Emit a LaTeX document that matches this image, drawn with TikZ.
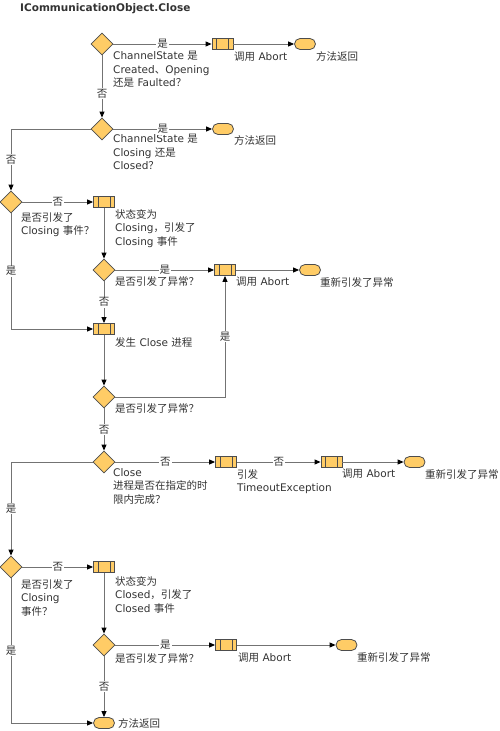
\documentclass[tikz,border=0pt]{standalone}
\usepackage{fontspec}
\setmainfont{DejaVu Sans}
\newfontfamily\cjk{Noto Sans CJK SC}
\usetikzlibrary{shapes.geometric,arrows.meta}
\newcommand{\zh}[1]{{\cjk #1}}
\definecolor{boxfill}{HTML}{FFCC66}
\definecolor{boxline}{HTML}{4D4D4D}
\definecolor{flowline}{HTML}{737373}
\definecolor{txtcol}{HTML}{333333}
\tikzset{
  decide/.style={diamond, aspect=1, minimum size=22pt, inner sep=0pt, fill=boxfill, draw=boxline, line width=.8pt},
  act/.style={rectangle, minimum width=21pt, minimum height=11pt, inner sep=0pt, fill=boxfill, draw=boxline, line width=.8pt,
    path picture={\draw[boxline, line width=.8pt]
      ([xshift=4.5pt]path picture bounding box.north west) -- ([xshift=4.5pt]path picture bounding box.south west)
      ([xshift=-4.5pt]path picture bounding box.north east) -- ([xshift=-4.5pt]path picture bounding box.south east);}},
  finish/.style={rectangle, rounded corners=5.5pt, minimum width=21pt, minimum height=11pt, inner sep=0pt, fill=boxfill, draw=boxline, line width=.8pt},
  note/.style={anchor=north west, inner sep=0pt, align=left, text=txtcol, font=\fontsize{10.5}{13.5}\selectfont},
  flow/.style={draw=flowline, line width=.9pt, -{Triangle[length=6pt, width=5pt, color=black]}},
  yn/.style={fill=white, inner sep=1pt, text=txtcol, font=\cjk\fontsize{10.5}{12}\selectfont}
}
\begin{document}
\begin{tikzpicture}[x=1pt, y=-1pt]
\useasboundingbox (0,0) rectangle (499,731);
\node[note, font=\bfseries\fontsize{10.5}{12}\selectfont] (title) at (20,3) {ICommunicationObject.Close};
\node[decide] (dec1) at (102,44) {};
\node[act] (act1) at (222.5,44) {};
\node[finish] (end1) at (305,44) {};
\node[note] (txt1) at (113,51) {ChannelState \zh{是}\\Created\zh{、}Opening\\\zh{还是} Faulted\zh{？}};
\node[note] (lab1) at (234,52) {\zh{调用} Abort};
\node[note] (lab2) at (316,51) {\zh{方法返回}};
\draw[flow] (dec1) -- node[yn]{是} (act1);
\draw[flow] (act1) -- (end1);
\node[decide] (dec2) at (102,129) {};
\node[finish] (end2) at (223,129) {};
\node[note] (txt2) at (113,134) {ChannelState \zh{是}\\Closing \zh{还是}\\Closed\zh{？}};
\node[note] (lab3) at (234,135) {\zh{方法返回}};
\draw[flow] (dec1) -- node[yn, pos=.62]{否} (dec2);
\draw[flow] (dec2) -- node[yn]{是} (end2);
\node[decide] (dec3) at (11,202) {};
\node[act] (act2) at (104,202) {};
\node[note] (txt3) at (21,212) {\zh{是否引发了}\\Closing \zh{事件？}};
\node[note] (txt4) at (115,209) {\zh{状态变为}\\Closing\zh{，引发了}\\Closing \zh{事件}};
\draw[flow] (dec2.west) -| node[yn, pos=.75]{否} (dec3.north);
\draw[flow] (dec3) -- node[yn]{否} (act2);
\node[decide] (dec4) at (104,270) {};
\node[act] (act3) at (225,270) {};
\node[finish] (end3) at (310,270) {};
\node[note] (txt5) at (115,276) {\zh{是否引发了异常？}};
\node[note] (lab4) at (236,277) {\zh{调用} Abort};
\node[note] (lab5) at (320,277) {\zh{重新引发了异常}};
\draw[flow] (act2) -- (dec4);
\draw[flow] (dec4) -- node[yn]{是} (act3);
\draw[flow] (act3) -- (end3);
\node[act] (act4) at (104,329) {};
\node[note] (txt6) at (115,337) {\zh{发生} Close \zh{进程}};
\draw[flow] (dec4) -- node[yn]{否} (act4);
\draw[flow] (dec3.south) |- node[yn, pos=.25]{是} (act4.west);
\node[decide] (dec5) at (104,397) {};
\node[note] (txt7) at (115,403) {\zh{是否引发了异常？}};
\draw[flow] (act4) -- (dec5);
\draw[flow] (dec5.east) -| node[yn, pos=.75]{是} (act3.south);
\node[decide] (dec6) at (104,462) {};
\node[act] (act5) at (226,462) {};
\node[act] (act6) at (331.5,462) {};
\node[finish] (end4) at (414.5,462) {};
\node[note] (txt8) at (113,468) {Close\\\zh{进程是否在指定的时}\\\zh{限内完成？}};
\node[note] (lab6) at (237,469) {\zh{引发}\\TimeoutException};
\node[note] (lab7) at (342,469) {\zh{调用} Abort};
\node[note] (lab8) at (425,469) {\zh{重新引发了异常}};
\draw[flow] (dec5) -- node[yn]{否} (dec6);
\draw[flow] (dec6) -- node[yn]{否} (act5);
\draw[flow] (act5) -- node[yn]{否} (act6);
\draw[flow] (act6) -- (end4);
\node[decide] (dec7) at (11,567) {};
\node[act] (act7) at (104,567) {};
\node[note] (txt9) at (21,579) {\zh{是否引发了}\\Closing\\\zh{事件？}};
\node[note] (txt10) at (115,576) {\zh{状态变为}\\Closed\zh{，引发了}\\Closed \zh{事件}};
\draw[flow] (dec6.west) -| node[yn, pos=.75]{是} (dec7.north);
\draw[flow] (dec7) -- node[yn]{否} (act7);
\node[decide] (dec8) at (104,645) {};
\node[act] (act8) at (226,645) {};
\node[finish] (end5) at (346.5,645) {};
\node[note] (txt11) at (115,653) {\zh{是否引发了异常？}};
\node[note] (lab9) at (238,653) {\zh{调用} Abort};
\node[note] (lab10) at (357,652) {\zh{重新引发了异常}};
\draw[flow] (act7) -- (dec8);
\draw[flow] (dec8) -- node[yn]{是} (act8);
\draw[flow] (act8) -- (end5);
\node[finish] (end6) at (104,723) {};
\node[note, anchor=west] (lab11) at (118,723) {\zh{方法返回}};
\draw[flow] (dec8) -- node[yn]{否} (end6);
\draw[flow] (dec7.south) |- node[yn, pos=.25]{是} (end6.west);
\end{tikzpicture}
\end{document}
